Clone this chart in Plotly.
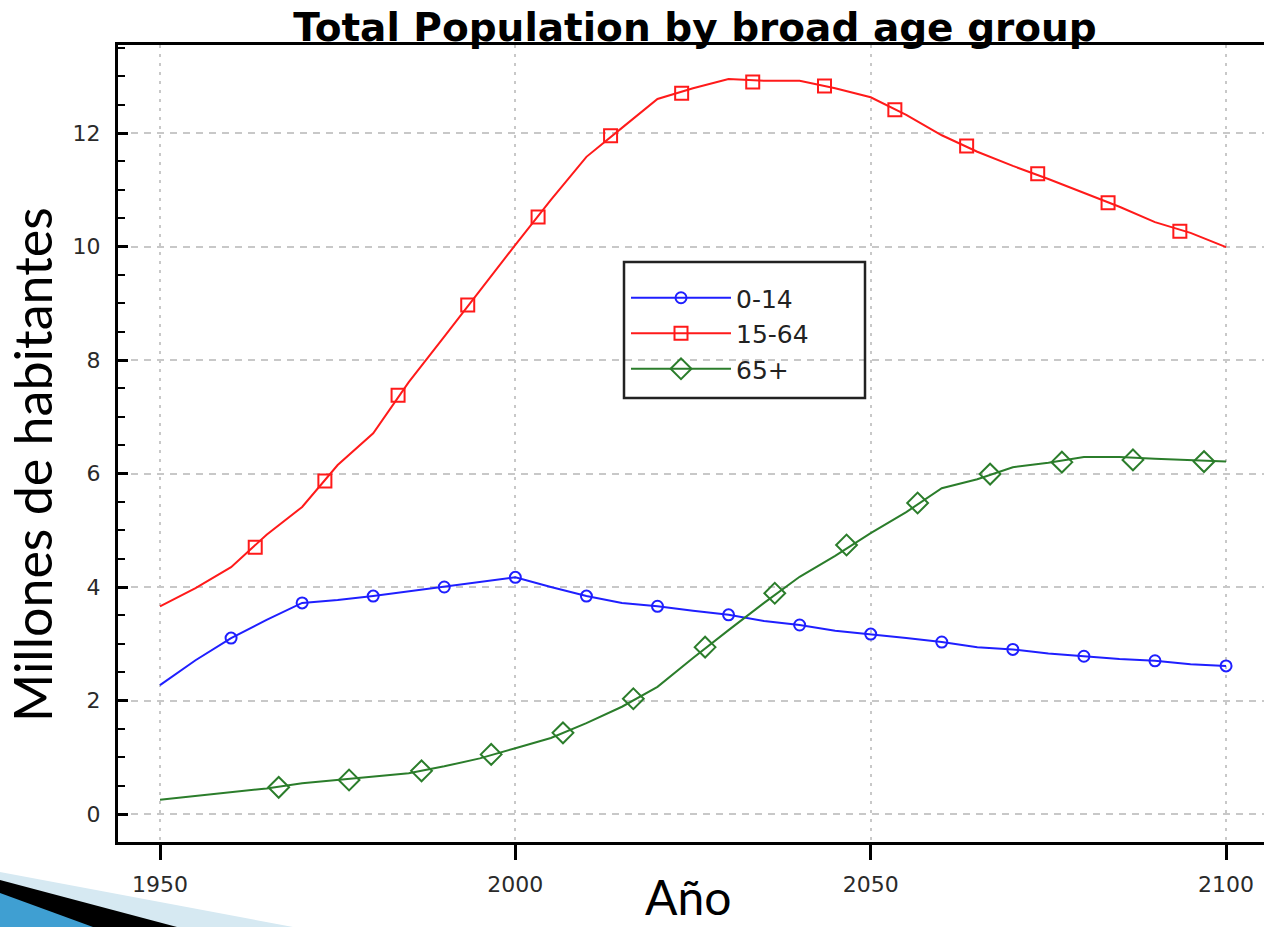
import plotly.graph_objects as go

# ---------------- data ----------------
years = list(range(1950, 2101, 5))

pop_0_14 = [2.27, 2.71, 3.10, 3.42, 3.72, 3.77, 3.84, 3.92, 4.00, 4.09, 4.17,
            4.00, 3.84, 3.72, 3.66, 3.58, 3.51, 3.40, 3.33, 3.23, 3.17,
            3.10, 3.03, 2.94, 2.90, 2.83, 2.78, 2.73, 2.70, 2.64, 2.61]
pop_15_64 = [3.66, 3.98, 4.35, 4.92, 5.41, 6.15, 6.71, 7.61, 8.41, 9.23, 10.03,
             10.82, 11.58, 12.09, 12.60, 12.79, 12.95, 12.92, 12.92, 12.79, 12.63,
             12.32, 11.96, 11.67, 11.42, 11.19, 10.95, 10.70, 10.43, 10.24, 9.99]
pop_65 = [0.25, 0.32, 0.39, 0.45, 0.54, 0.60, 0.65, 0.72, 0.84, 0.98, 1.16,
          1.34, 1.60, 1.89, 2.24, 2.75, 3.24, 3.72, 4.18, 4.55, 4.95,
          5.32, 5.74, 5.90, 6.11, 6.19, 6.29, 6.29, 6.26, 6.24, 6.21]

# marker positions (R draws symbols at a subset of positions along each curve)
mk_years_0_14 = [1960, 1970, 1980, 1990, 2000, 2010, 2020, 2030, 2040, 2050,
                 2060, 2070, 2080, 2090, 2100]
mk_vals_0_14 = [3.10, 3.72, 3.84, 4.00, 4.17, 3.84, 3.66, 3.51, 3.33, 3.17,
                3.03, 2.90, 2.78, 2.70, 2.61]
mk_years_15_64 = [1963.4, 1973.2, 1983.5, 1993.3, 2003.2, 2013.4, 2023.4, 2033.4,
                  2043.5, 2053.4, 2063.5, 2073.5, 2083.4, 2093.5]
mk_vals_15_64 = [4.70, 5.87, 7.38, 8.97, 10.52, 11.95, 12.70, 12.90,
                 12.83, 12.41, 11.77, 11.28, 10.77, 10.27]
mk_years_65 = [1966.7, 1976.6, 1986.8, 1996.6, 2006.7, 2016.6, 2026.7, 2036.5,
               2046.6, 2056.6, 2066.8, 2076.9, 2086.9, 2096.9]
mk_vals_65 = [0.47, 0.60, 0.76, 1.05, 1.43, 2.03, 2.94, 3.89,
              4.74, 5.48, 5.99, 6.20, 6.24, 6.21]

series_names = ["0-14", "15-64", "65+"]
x_ticks = [1950, 2000, 2050, 2100]
y_ticks = [0, 2, 4, 6, 8, 10, 12]

# ---------------- layout geometry ----------------
W, H = 1264, 927
L, R, T, B = 118, 0, 45, 927 - 842
PW, PH = W - L - R, H - T - B


def px2x(px):  # page pixel x -> paper x
    return (px - L) / PW


def py2y(py):  # page pixel y -> paper y
    return (H - B - py) / PH


PX_PER_YEAR = 7.107
PX_PER_UNIT = 56.75

colors = ["#1f1fff", "#ff1a1a", "#2b7d2b"]
symbols = ["circle-open", "square-open", "diamond-open"]
msizes = [11, 13, 16]

series = [
    (years, pop_0_14, mk_years_0_14, mk_vals_0_14),
    (years, pop_15_64, mk_years_15_64, mk_vals_15_64),
    (years, pop_65, mk_years_65, mk_vals_65),
]

fig = go.Figure()
for i, (xs, ys, mx, my) in enumerate(series):
    fig.add_trace(go.Scatter(x=xs, y=ys, mode="lines",
                             line=dict(color=colors[i], width=2),
                             showlegend=False, hoverinfo="skip"))
    fig.add_trace(go.Scatter(x=mx, y=my, mode="markers",
                             marker=dict(symbol=symbols[i], size=msizes[i],
                                         color=colors[i],
                                         line=dict(color=colors[i], width=2)),
                             showlegend=False))
for i, name in enumerate(series_names):
    fig.add_trace(go.Scatter(x=[None], y=[None], mode="lines+markers", name=name,
                             line=dict(color=colors[i], width=2),
                             marker=dict(symbol=symbols[i], size=msizes[i],
                                         color=colors[i],
                                         line=dict(color=colors[i], width=2))))

tick_font = dict(family="DejaVu Sans", size=22, color="#2a2a2a")

fig.update_layout(
    width=W, height=H,
    margin=dict(l=L, r=R, t=T, b=B, pad=0),
    paper_bgcolor="white", plot_bgcolor="white",
    title=dict(text="<b>Total Population by broad age group</b>",
               font=dict(family="DejaVu Sans", size=39, color="black"),
               x=695 / W, xanchor="center", xref="container",
               y=1 - 27 / H, yanchor="middle", yref="container"),
    showlegend=True,
    legend=dict(x=px2x(626), y=py2y(275), xanchor="left", yanchor="top",
                bgcolor="rgba(0,0,0,0)", borderwidth=0,
                font=dict(family="DejaVu Sans", size=25, color="#222"),
                itemwidth=100, tracegroupgap=0),
    xaxis=dict(range=[1950 - (160 - L) / PX_PER_YEAR,
                      1950 - (160 - L) / PX_PER_YEAR + PW / PX_PER_YEAR],
               tickvals=x_ticks, ticktext=[str(v) for v in x_ticks],
               ticks="outside", ticklen=15, tickwidth=3, tickcolor="black",
               ticklabelstandoff=6,
               tickfont=tick_font,
               showline=True, linecolor="black", linewidth=3, mirror=True,
               showgrid=True, gridcolor="#c8c8c8", gridwidth=1.5, griddash="3px,6px",
               zeroline=False),
    yaxis=dict(range=[-(842 - 814) / PX_PER_UNIT, (814 - 45) / PX_PER_UNIT],
               tickvals=y_ticks, ticktext=[str(v) for v in y_ticks],
               ticks="inside", ticklen=10, tickwidth=3, tickcolor="black",
               ticklabelstandoff=10,
               tickfont=tick_font,
               minor=dict(dtick=0.5, ticks="inside", ticklen=7, tickwidth=2,
                          tickcolor="black", showgrid=False),
               showline=True, linecolor="black", linewidth=3, mirror=False,
               showgrid=True, gridcolor="#c8c8c8", gridwidth=1.5, griddash="7px,6px",
               zeroline=False),
)

# legend box
fig.add_shape(type="rect", xref="paper", yref="paper",
              x0=px2x(624), x1=px2x(865), y0=py2y(398), y1=py2y(262),
              line=dict(color="#222", width=2.5), fillcolor="rgba(0,0,0,0)", layer="above")

# axis titles (added in the slide)
fig.add_annotation(text="Año", xref="paper", yref="paper",
                   x=px2x(688), y=py2y(927), xanchor="center", yanchor="bottom",
                   showarrow=False, font=dict(family="Lato", size=48, color="black"))
fig.add_annotation(text="Millones de habitantes", xref="paper", yref="paper",
                   x=px2x(32), y=py2y(465), xanchor="center", yanchor="middle",
                   textangle=-90, showarrow=False,
                   font=dict(family="Lato", size=52, color="black"))


# slide decoration bottom-left
def tri(pts, color):
    path = "M " + " L ".join(f"{px2x(a)},{py2y(b)}" for a, b in pts) + " Z"
    fig.add_shape(type="path", path=path, xref="paper", yref="paper",
                  fillcolor=color, line=dict(width=0), layer="above")


tri([(0, 872), (293, 927), (0, 927)], "#d6e9f2")
tri([(0, 880), (177, 927), (0, 927)], "#000000")
tri([(0, 893), (93, 927), (0, 927)], "#3f9fd2")

# remove the default 8px page margin so the figure fills the window exactly
fig.write_html("out.html",
               config={"displayModeBar": False},
               post_script="document.body.style.margin='0';"
                           "document.body.style.overflow='hidden';")
